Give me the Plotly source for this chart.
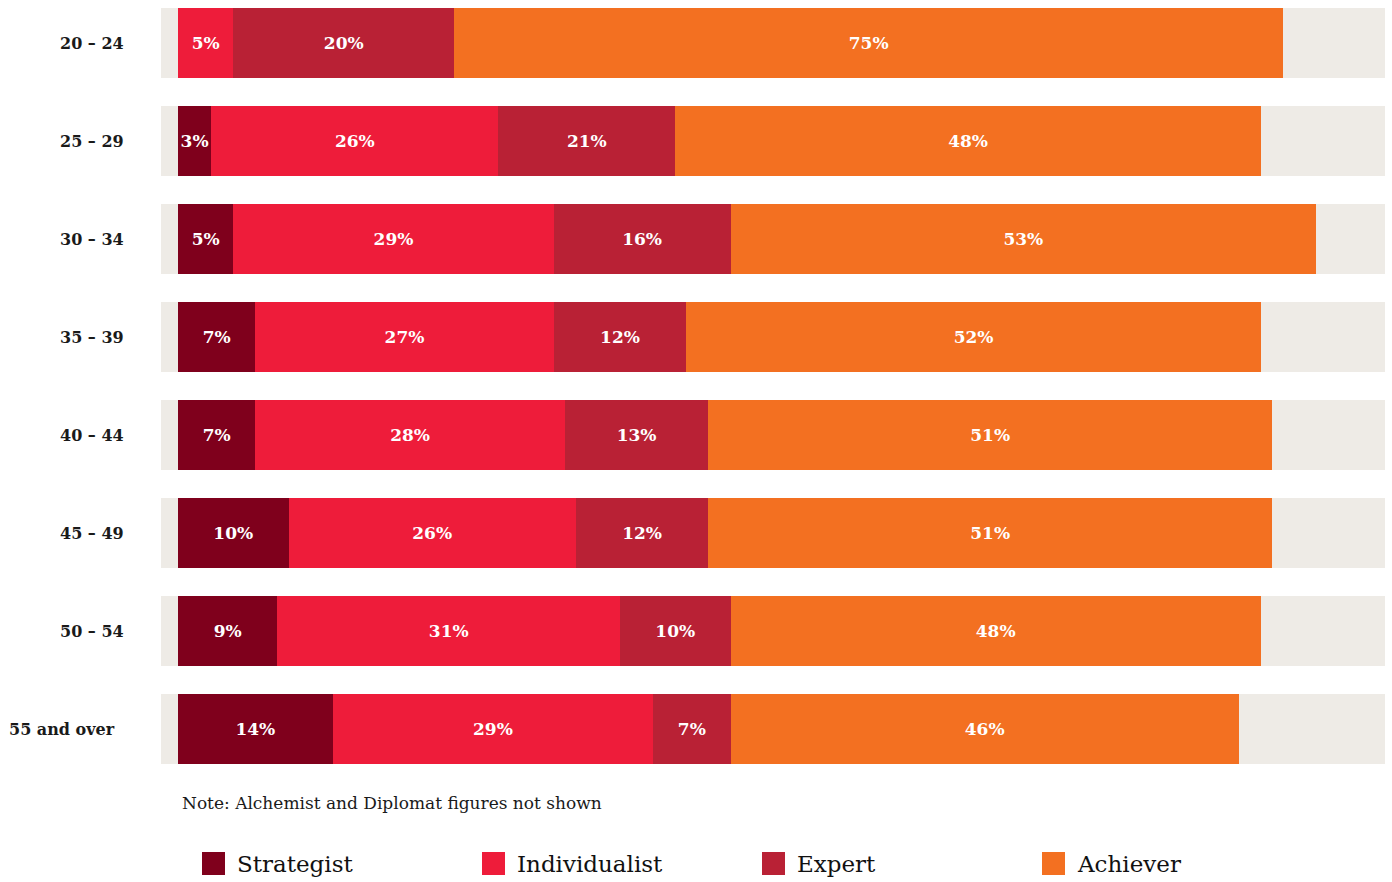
import plotly.graph_objects as go

# ---------------- data ----------------
age_groups = ["20 – 24", "25 – 29", "30 – 34", "35 – 39", "40 – 44", "45 – 49", "50 – 54", "55 and over"]
series_names = ["Strategist", "Individualist", "Expert", "Achiever"]

# bar lengths as drawn in the chart (%)
strategist = [0, 3, 5, 7, 7, 10, 9, 14]
individualist = [5, 26, 29, 27, 28, 26, 31, 29]
expert = [20, 16, 16, 12, 13, 12, 10, 7]
achiever = [75, 53, 53, 52, 51, 51, 48, 46]

# percentages printed on the bars
strategist_labels = [None, 3, 5, 7, 7, 10, 9, 14]
individualist_labels = [5, 26, 29, 27, 28, 26, 31, 29]
expert_labels = [20, 21, 16, 12, 13, 12, 10, 7]
achiever_labels = [75, 48, 53, 52, 51, 51, 48, 46]

note_text = "Note: Alchemist and Diplomat figures not shown"

# ---------------- style ----------------
colors = ["#7f001c", "#ee1c3a", "#b92135", "#f37021"]
bg_gray = "#eeebe6"
W, H = 1392, 882
ML, MR, MT, MB = 161, 7, 8, 118
PW, PH = W - ML - MR, H - MT - MB
BAR_FRAC = 70 / 98
SERIF = "DejaVu Serif"


def px_x(px):
    return (px - ML) / PW


def px_y(py):
    return (H - MB - py) / PH


values = [strategist, individualist, expert, achiever]
labels = [strategist_labels, individualist_labels, expert_labels, achiever_labels]

fig = go.Figure()
for name, vals, labs, col in zip(series_names, values, labels, colors):
    fig.add_trace(go.Bar(
        y=age_groups,
        x=vals,
        name=name,
        orientation="h",
        marker=dict(color=col, line=dict(width=0)),
        width=BAR_FRAC,
        text=["" if l is None else f"<b>{l}%</b>" for l in labs],
        textposition="inside",
        insidetextanchor="middle",
        textangle=0,
        textfont=dict(family=SERIF, size=17, color="white"),
        hoverinfo="skip",
        showlegend=False,
        cliponaxis=False,
    ))

shapes = []
annotations = []
# gray background rows
for i, g in enumerate(age_groups):
    shapes.append(dict(type="rect", xref="paper", yref="y", x0=0, x1=1,
                       y0=i - BAR_FRAC / 2, y1=i + BAR_FRAC / 2,
                       fillcolor=bg_gray, line=dict(width=0), layer="below"))
    right_px = 117 if i == len(age_groups) - 1 else 126
    annotations.append(dict(text=f"<b>{g}</b>", xref="paper", yref="y",
                            x=px_x(right_px), y=i, xanchor="right", yanchor="middle",
                            showarrow=False,
                            font=dict(family=SERIF, size=16, color="#1a1a1a")))

# note
annotations.append(dict(text=note_text, xref="paper", yref="paper",
                        x=px_x(180), y=px_y(803), xanchor="left", yanchor="middle",
                        showarrow=False, font=dict(family=SERIF, size=17, color="#1a1a1a")))

# custom legend
for k, (name, col) in enumerate(zip(series_names, colors)):
    x0 = 202 + 280 * k
    shapes.append(dict(type="rect", xref="paper", yref="paper",
                       x0=px_x(x0), x1=px_x(x0 + 23), y0=px_y(875), y1=px_y(852),
                       fillcolor=col, line=dict(width=0)))
    annotations.append(dict(text=name, xref="paper", yref="paper",
                            x=px_x(x0 + 33), y=px_y(864), xanchor="left", yanchor="middle",
                            showarrow=False, font=dict(family=SERIF, size=23, color="#111111")))

x_lo = (161 - 178) / 11.05
x_hi = (1385 - 178) / 11.05

fig.update_layout(
    width=W, height=H,
    margin=dict(l=ML, r=MR, t=MT, b=MB),
    barmode="stack",
    plot_bgcolor="white",
    paper_bgcolor="white",
    shapes=shapes,
    annotations=annotations,
    uniformtext=dict(minsize=17, mode="show"),
    xaxis=dict(range=[x_lo, x_hi], showgrid=False, zeroline=False,
               showticklabels=False, showline=False, fixedrange=True),
    yaxis=dict(range=[len(age_groups) - 1 + BAR_FRAC / 2, -BAR_FRAC / 2],
               showgrid=False, zeroline=False, showticklabels=False,
               showline=False, fixedrange=True),
)

fig.write_html("out.html", config={"displayModeBar": False})
